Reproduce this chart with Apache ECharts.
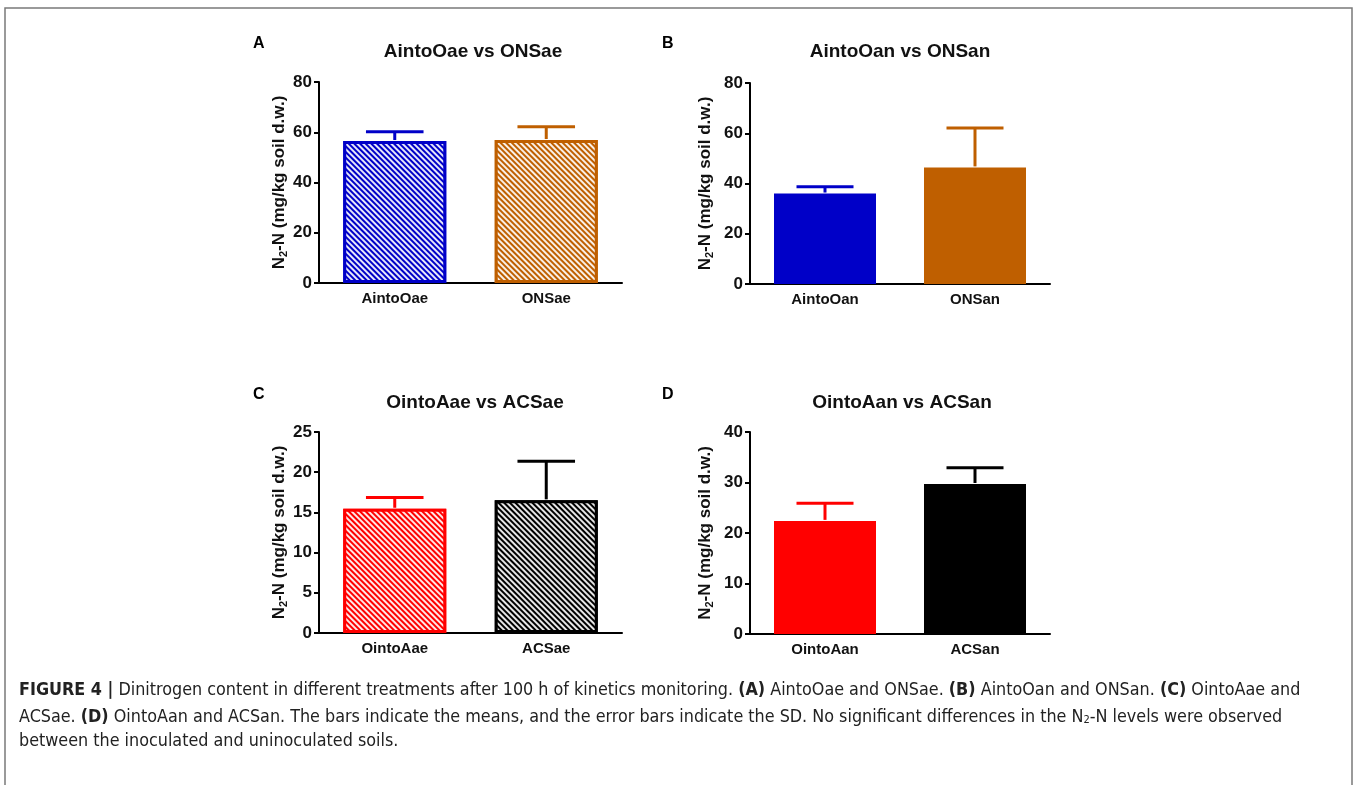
<!DOCTYPE html>
<html>
<head>
<meta charset="utf-8">
<script src="https://cdn.jsdelivr.net/npm/echarts@6/dist/echarts.min.js"></script>
<style>
    html, body { margin: 0; padding: 0; background: #fff; }
    #chart { width: 1357px; height: 785px; }
</style>
</head>
<body>
<div id="chart"></div>
<script>
// panel data
const panelTitles = ['AintoOae vs ONSae', 'AintoOan vs ONSan', 'OintoAae vs ACSae', 'OintoAan vs ACSan'];
const panelLetters = ['A', 'B', 'C', 'D'];
const catsA = ['AintoOae', 'ONSae'];
const catsB = ['AintoOan', 'ONSan'];
const catsC = ['OintoAae', 'ACSae'];
const catsD = ['OintoAan', 'ACSan'];
const meanA = [56.5, 56.9];
const sdA = [3.7, 5.3];
const meanB = [36.0, 46.4];
const sdB = [2.7, 15.7];
const meanC = [15.45, 16.5];
const sdC = [1.4, 4.85];
const meanD = [22.4, 29.7];
const sdD = [3.5, 3.2];
const yMax = [80, 80, 25, 40];
const yStep = [20, 20, 5, 10];

const BLUE = '#0000c8';
const ORANGE = '#bf5f00';
const RED = '#ff0000';
const BLACK = '#000000';

const FONT = 'Liberation Sans, Arial, sans-serif';

let chart = echarts.init(document.getElementById('chart'));

const grids = [
    {left: 319, top: 82, width: 303, height: 201},
    {left: 750, top: 83, width: 300, height: 201},
    {left: 319, top: 432, width: 303, height: 201},
    {left: 750, top: 432, width: 300, height: 202}
];
const nameGaps = [30, 35, 30, 35];

const hatch = {
    symbol: 'rect',
    symbolSize: 1,
    dashArrayX: [1, 0],
    dashArrayY: [2, 2],
    rotation: Math.PI / 4,
    color: 'rgba(255,255,255,0.9)'
};

function barSeries(idx, means, colors, hatched) {
    return {
        type: 'bar',
        xAxisIndex: idx,
        yAxisIndex: idx,
        barWidth: '68%',
        silent: true,
        data: means.map(function (v, i) {
            let item = {value: v, itemStyle: {color: colors[i]}};
            if (hatched) {
                item.itemStyle.borderColor = colors[i];
                item.itemStyle.borderWidth = 3;
                item.itemStyle.decal = hatch;
            }
            return item;
        })
    };
}

function errorSeries(idx, means, sds, colors) {
    return {
        type: 'custom',
        xAxisIndex: idx,
        yAxisIndex: idx,
        silent: true,
        z: 3,
        data: means.map(function (v, i) {
            return {value: [i, v, sds[i]], itemStyle: {color: colors[i]}};
        }),
        renderItem: function (params, api) {
            const x = api.value(0);
            const m = api.value(1);
            const top = api.coord([x, m + api.value(2)]);
            const base = api.coord([x, m]);
            const half = api.size([1, 0])[0] * 0.19;
            const col = api.visual('color');
            return {
                type: 'group',
                children: [
                    {type: 'line', shape: {x1: base[0], y1: base[1] - 1, x2: top[0], y2: top[1]}, style: {stroke: col, lineWidth: 3}},
                    {type: 'line', shape: {x1: top[0] - half, y1: top[1], x2: top[0] + half, y2: top[1]}, style: {stroke: col, lineWidth: 3}}
                ]
            };
        }
    };
}

const cats = [catsA, catsB, catsC, catsD];

let xAxes = cats.map(function (c, i) {
    return {
        type: 'category',
        gridIndex: i,
        data: c,
        axisLine: {lineStyle: {color: '#000', width: 2}},
        axisTick: {alignWithLabel: true, length: 6, lineStyle: {color: '#000', width: 2}},
        axisLabel: {color: '#111', fontFamily: FONT, fontWeight: 'bold', fontSize: 15, margin: 8}
    };
});

let yAxes = yMax.map(function (m, i) {
    return {
        type: 'value',
        gridIndex: i,
        min: 0,
        max: m,
        interval: yStep[i],
        splitLine: {show: false},
        axisLine: {show: true, lineStyle: {color: '#000', width: 2}},
        axisTick: {show: true, length: 5, lineStyle: {color: '#000', width: 2}},
        axisLabel: {color: '#111', fontFamily: FONT, fontWeight: 'bold', fontSize: 17, margin: 7},
        name: '{n|N}{s|2}{n|-N (mg/kg soil d.w.)}',
        nameLocation: 'middle',
        nameGap: nameGaps[i],
        nameRotate: 90,
        nameTextStyle: {
            rich: {
                n: {fontFamily: FONT, fontWeight: 'bold', fontSize: 17, color: '#111', lineHeight: 20},
                s: {fontFamily: FONT, fontWeight: 'bold', fontSize: 11, color: '#111', lineHeight: 11, verticalAlign: 'bottom'}
            }
        }
    };
});

let series = [
    barSeries(0, meanA, [BLUE, ORANGE], true),
    errorSeries(0, meanA, sdA, [BLUE, ORANGE]),
    barSeries(1, meanB, [BLUE, ORANGE], false),
    errorSeries(1, meanB, sdB, [BLUE, ORANGE]),
    barSeries(2, meanC, [RED, BLACK], true),
    errorSeries(2, meanC, sdC, [RED, BLACK]),
    barSeries(3, meanD, [RED, BLACK], false),
    errorSeries(3, meanD, sdD, [RED, BLACK])
];

const titlePos = [[473, 52], [900, 52], [475, 403], [902, 403]];
const letterPos = [[253, 44], [662, 44], [253, 395], [662, 395]];

let graphics = [
    // figure frame
    {type: 'rect', shape: {x: 5, y: 8, width: 1347, height: 800}, style: {fill: 'none', stroke: '#7a7a7a', lineWidth: 1.5}, silent: true}
];

panelTitles.forEach(function (t, i) {
    graphics.push({
        type: 'text', x: titlePos[i][0], y: titlePos[i][1], silent: true,
        style: {text: t, fill: '#111', font: 'bold 19px ' + FONT, textAlign: 'center', textVerticalAlign: 'middle'}
    });
    graphics.push({
        type: 'text', x: letterPos[i][0], y: letterPos[i][1], silent: true,
        style: {text: panelLetters[i], fill: '#000', font: 'bold 16px ' + FONT, textAlign: 'left', textVerticalAlign: 'middle'}
    });
});

// caption
const CAP_FONT = 'DejaVu Sans Condensed, sans-serif';
const CAP_SIZE = 17.8;
const captionLines = [
    '{b|FIGURE 4 |} Dinitrogen content in different treatments after 100 h of kinetics monitoring. {b|(A)} AintoOae and ONSae. {b|(B)} AintoOan and ONSan. {b|(C)} OintoAae and',
    'ACSae. {b|(D)} OintoAan and ACSan. The bars indicate the means, and the error bars indicate the SD. No significant differences in the N{s|2}-N levels were observed',
    'between the inoculated and uninoculated soils.'
];
const captionY = [690, 717, 741];
captionLines.forEach(function (line, i) {
    graphics.push({
        type: 'text', x: 19, y: captionY[i], silent: true,
        style: {
            text: line,
            fill: '#222',
            fontFamily: CAP_FONT,
            fontSize: CAP_SIZE,
            textAlign: 'left',
            textVerticalAlign: 'middle',
            rich: {
                b: {fontFamily: CAP_FONT, fontSize: CAP_SIZE, fontWeight: 'bold', fill: '#222'},
                s: {fontFamily: CAP_FONT, fontSize: 11, fill: '#222', verticalAlign: 'bottom', lineHeight: 10}
            }
        }
    });
});

chart.setOption({
    animation: false,
    backgroundColor: '#fff',
    grid: grids,
    xAxis: xAxes,
    yAxis: yAxes,
    series: series,
    graphic: graphics
});

window.addEventListener('resize', function () {
    chart?.resize();
});
</script>
</body>
</html>
